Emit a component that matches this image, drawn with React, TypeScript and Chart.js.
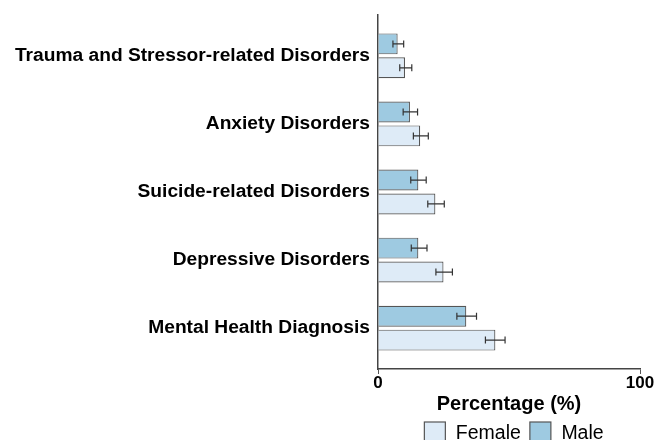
import React, { useEffect, useRef } from "react";
import { Chart, registerables } from "chart.js";

Chart.register(...registerables);

// Categories top to bottom
const categories = [
  "Trauma and Stressor-related Disorders",
  "Anxiety Disorders",
  "Suicide-related Disorders",
  "Depressive Disorders",
  "Mental Health Diagnosis",
];
const femaleValues = [10.3, 16.1, 21.9, 25.0, 44.8];
const femaleLow = [8.3, 13.5, 19.0, 22.1, 41.0];
const femaleHigh = [12.9, 19.2, 25.3, 28.4, 48.5];
const maleValues = [7.5, 12.2, 15.4, 15.4, 33.7];
const maleLow = [5.7, 9.6, 12.5, 12.7, 30.1];
const maleHigh = [9.8, 15.1, 18.4, 18.7, 37.6];
const xTicks = [0, 100];
const legendOrder = ["Female", "Male"];

const FONT = "'Liberation Sans', Arial, sans-serif";
const n = categories.length;
const posOf = (i: number) => n - 1 - i;

const errorBarPlugin = {
  id: "errorBars",
  afterDatasetsDraw(chart: any) {
    const ctx = chart.ctx;
    const xs = chart.scales.x;
    chart.data.datasets.forEach((ds: any, di: number) => {
      const meta = chart.getDatasetMeta(di);
      meta.data.forEach((bar: any, i: number) => {
        const lo = xs.getPixelForValue(ds.errLow[i]);
        const hi = xs.getPixelForValue(ds.errHigh[i]);
        const y = bar.y;
        ctx.save();
        ctx.strokeStyle = "#333333";
        ctx.lineWidth = 1.2;
        ctx.beginPath();
        ctx.moveTo(lo, y);
        ctx.lineTo(hi, y);
        ctx.moveTo(lo, y - 3.5);
        ctx.lineTo(lo, y + 3.5);
        ctx.moveTo(hi, y - 3.5);
        ctx.lineTo(hi, y + 3.5);
        ctx.stroke();
        ctx.restore();
      });
    });
  },
};

const legendPlugin = {
  id: "customLegend",
  afterDraw(chart: any) {
    const ctx = chart.ctx;
    const area = chart.chartArea;
    const box = 21;
    const textGap = 10.5;
    const itemGap = 9;
    ctx.save();
    ctx.font = `19.5px ${FONT}`;
    const items = legendOrder.map((label) => {
      const ds = chart.data.datasets.find((d: any) => d.label === label);
      return { label, ds, w: ctx.measureText(label).width };
    });
    const total = items.reduce((s, it) => s + box + textGap + it.w, 0) + itemGap * (items.length - 1);
    let x = (area.left + area.right) / 2 + 5 - total / 2;
    const top = area.bottom + 53;
    items.forEach((it) => {
      ctx.fillStyle = it.ds.backgroundColor;
      ctx.fillRect(x, top, box, box);
      ctx.strokeStyle = "#555555";
      ctx.lineWidth = 1.2;
      ctx.strokeRect(x, top, box, box);
      ctx.fillStyle = "#000";
      ctx.textBaseline = "middle";
      ctx.textAlign = "left";
      ctx.fillText(it.label, x + box + textGap, top + box / 2 + 1);
      x += box + textGap + it.w + itemGap;
    });
    ctx.restore();
  },
};

export default function App() {
  const ref = useRef<HTMLCanvasElement>(null);
  useEffect(() => {
    const chart = new Chart(ref.current!, {
      type: "bar",
      data: {
        datasets: [
          {
            label: "Male",
            data: maleValues.map((v, i) => ({ x: v, y: posOf(i) })),
            backgroundColor: "#9ecae1",
            borderColor: "#555555",
            borderWidth: 1.2,
            errLow: maleLow,
            errHigh: maleHigh,
          } as any,
          {
            label: "Female",
            data: femaleValues.map((v, i) => ({ x: v, y: posOf(i) })),
            backgroundColor: "#deebf7",
            borderColor: "#555555",
            borderWidth: 1.2,
            errLow: femaleLow,
            errHigh: femaleHigh,
          } as any,
        ],
      },
      options: {
        indexAxis: "y",
        animation: false,
        responsive: false,
        maintainAspectRatio: false,
        datasets: { bar: { categoryPercentage: 0.703, barPercentage: 0.875, grouped: true } },
        layout: { padding: { top: 15, right: 30, left: 0, bottom: 36 } },
        scales: {
          x: {
            type: "linear",
            min: 0,
            max: 100,
            afterBuildTicks: (axis: any) => {
              axis.ticks = xTicks.map((v) => ({ value: v }));
            },
            grid: { drawOnChartArea: false, drawTicks: true, tickLength: 5, color: "#555555" },
            border: { display: true, color: "#444444", width: 1.5 },
            ticks: {
              color: "#000",
              padding: 1,
              maxRotation: 0,
              font: { family: FONT, size: 17, weight: "bold", lineHeight: 1.0 },
            },
            title: {
              display: true,
              text: "Percentage (%)",
              color: "#000",
              padding: { top: 0, bottom: 1 },
              font: { family: FONT, size: 20, weight: "bold", lineHeight: 1.1 },
            },
          },
          y: {
            type: "linear",
            offset: false,
            min: -0.6,
            max: n - 1 + 0.6,
            afterBuildTicks: (axis: any) => {
              axis.ticks = categories.map((_, i) => ({ value: posOf(i) }));
            },
            afterFit: (s: any) => {
              s.width = 378;
            },
            grid: { display: false, drawTicks: false, offset: false },
            border: { display: true, color: "#444444", width: 1.5 },
            ticks: {
              color: "#000",
              padding: 8,
              font: { family: FONT, size: 19.2, weight: "bold", lineHeight: 0.6 },
              callback: (v: any) => {
                const idx = n - 1 - Math.round(Number(v));
                return categories[idx] ?? "";
              },
            },
          },
        },
        plugins: {
          legend: { display: false },
          tooltip: { enabled: false },
        },
      },
      plugins: [errorBarPlugin, legendPlugin],
    } as any);
    return () => chart.destroy();
  }, []);
  return (
    <div style={{ position: "fixed", left: 0, top: 0, width: 670, height: 440, overflow: "hidden", background: "#fff" }}>
      <canvas ref={ref} width={670} height={452} style={{ display: "block" }} />
    </div>
  );
}
